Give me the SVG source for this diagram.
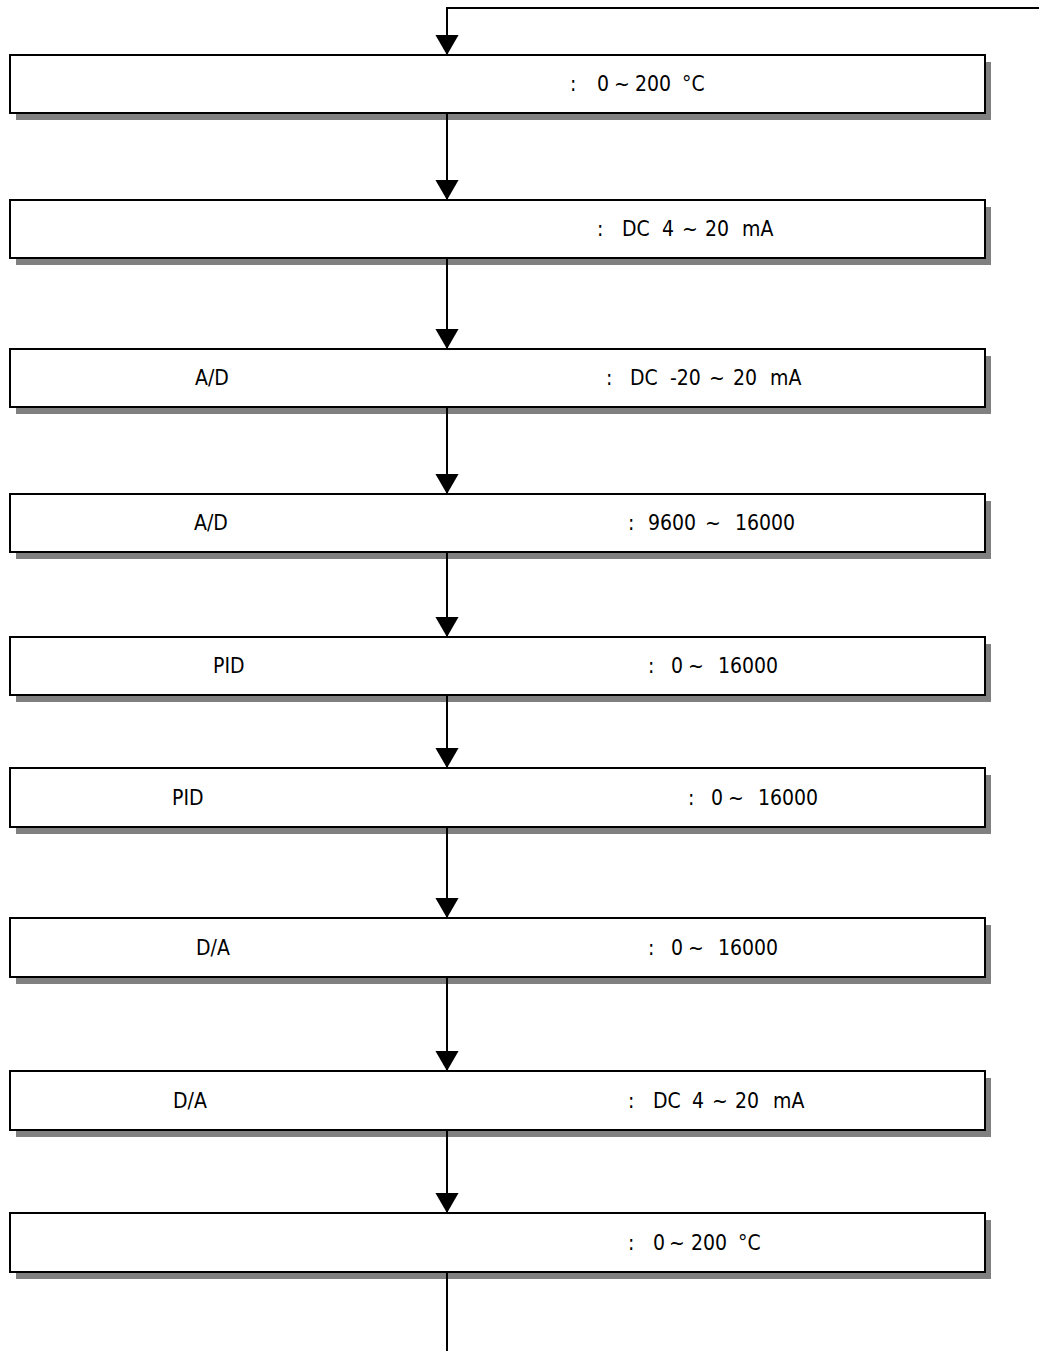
<svg xmlns="http://www.w3.org/2000/svg" width="1039" height="1351" viewBox="0 0 1039 1351">
<style>
.shadow{fill:#808080;stroke:none}
.box{fill:#fff;stroke:#000;stroke-width:2}
.t{font-family:"Liberation Sans Narrow","DejaVu Sans Condensed","Liberation Sans",sans-serif;font-size:21px;fill:#000}
.c{fill:none;stroke:#000;stroke-width:2}
</style>
<defs>
<marker id="ah" markerUnits="userSpaceOnUse" markerWidth="20" markerHeight="24" refX="19" refY="11" orient="auto" viewBox="0 0 19 22">
<path d="M0,0 L19,11 L0,22 Z" fill="#000"/>
</marker>
</defs>
<g id="n1"><rect class="shadow" x="16" y="62" width="975" height="58"/><rect class="box" x="10" y="55" width="975" height="58"/><text class="t" y="91"><tspan x="570">:</tspan><tspan x="597">0</tspan><tspan x="614">~</tspan><tspan x="635">200</tspan><tspan x="682">°C</tspan></text></g>
<g id="n2"><rect class="shadow" x="16" y="207" width="975" height="58"/><rect class="box" x="10" y="200" width="975" height="58"/><text class="t" y="236"><tspan x="597">:</tspan><tspan x="622">DC</tspan><tspan x="662">4</tspan><tspan x="682">~</tspan><tspan x="705">20</tspan><tspan x="742">mA</tspan></text></g>
<g id="n3"><rect class="shadow" x="16" y="356" width="975" height="58"/><rect class="box" x="10" y="349" width="975" height="58"/><text class="t" x="195" y="385">A/D</text><text class="t" y="385"><tspan x="606">:</tspan><tspan x="630">DC</tspan><tspan x="670">-20</tspan><tspan x="709">~</tspan><tspan x="733">20</tspan><tspan x="770">mA</tspan></text></g>
<g id="n4"><rect class="shadow" x="16" y="501" width="975" height="58"/><rect class="box" x="10" y="494" width="975" height="58"/><text class="t" x="194" y="530">A/D</text><text class="t" y="530"><tspan x="628">:</tspan><tspan x="648">9600</tspan><tspan x="705">~</tspan><tspan x="735">16000</tspan></text></g>
<g id="n5"><rect class="shadow" x="16" y="644" width="975" height="58"/><rect class="box" x="10" y="637" width="975" height="58"/><text class="t" x="213" y="673">PID</text><text class="t" y="673"><tspan x="648">:</tspan><tspan x="671">0</tspan><tspan x="688">~</tspan><tspan x="718">16000</tspan></text></g>
<g id="n6"><rect class="shadow" x="16" y="775" width="975" height="59"/><rect class="box" x="10" y="768" width="975" height="59"/><text class="t" x="172" y="805">PID</text><text class="t" y="805"><tspan x="688">:</tspan><tspan x="711">0</tspan><tspan x="728">~</tspan><tspan x="758">16000</tspan></text></g>
<g id="n7"><rect class="shadow" x="16" y="925" width="975" height="59"/><rect class="box" x="10" y="918" width="975" height="59"/><text class="t" x="196" y="955">D/A</text><text class="t" y="955"><tspan x="648">:</tspan><tspan x="671">0</tspan><tspan x="688">~</tspan><tspan x="718">16000</tspan></text></g>
<g id="n8"><rect class="shadow" x="16" y="1078" width="975" height="59"/><rect class="box" x="10" y="1071" width="975" height="59"/><text class="t" x="173" y="1108">D/A</text><text class="t" y="1108"><tspan x="628">:</tspan><tspan x="653">DC</tspan><tspan x="692">4</tspan><tspan x="712">~</tspan><tspan x="735">20</tspan><tspan x="773">mA</tspan></text></g>
<g id="n9"><rect class="shadow" x="16" y="1220" width="975" height="59"/><rect class="box" x="10" y="1213" width="975" height="59"/><text class="t" y="1250"><tspan x="628">:</tspan><tspan x="653">0</tspan><tspan x="669">~</tspan><tspan x="691">200</tspan><tspan x="738">°C</tspan></text></g>
<g id="connectors">
<path class="c" d="M1039,8 L447,8 L447,55" marker-end="url(#ah)"/>
<path class="c" d="M447,113 L447,200" marker-end="url(#ah)"/>
<path class="c" d="M447,258 L447,349" marker-end="url(#ah)"/>
<path class="c" d="M447,407 L447,494" marker-end="url(#ah)"/>
<path class="c" d="M447,552 L447,637" marker-end="url(#ah)"/>
<path class="c" d="M447,695 L447,768" marker-end="url(#ah)"/>
<path class="c" d="M447,827 L447,918" marker-end="url(#ah)"/>
<path class="c" d="M447,977 L447,1071" marker-end="url(#ah)"/>
<path class="c" d="M447,1130 L447,1213" marker-end="url(#ah)"/>
<path class="c" d="M447,1272 L447,1351"/>
</g>
</svg>
